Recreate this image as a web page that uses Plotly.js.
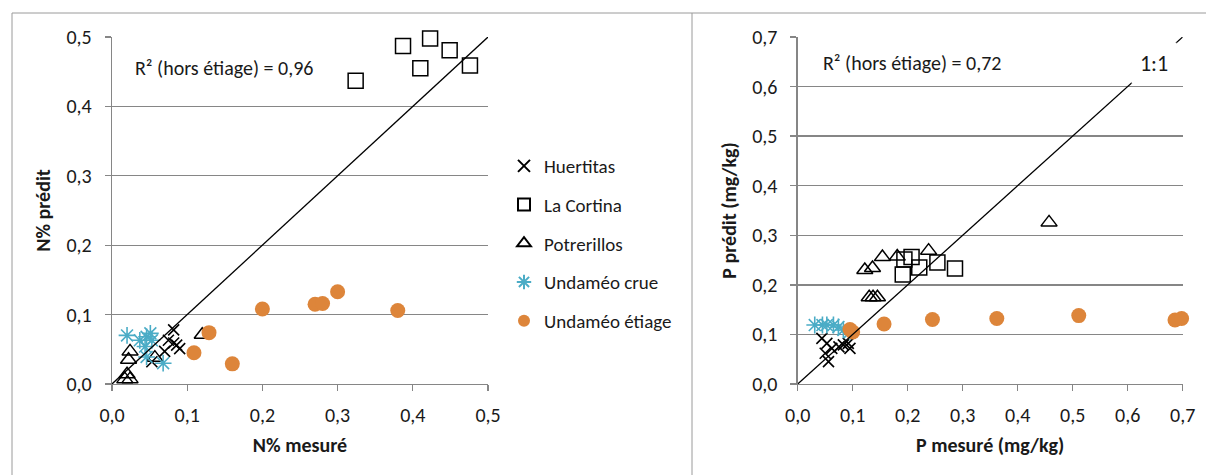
<!DOCTYPE html>
<html>
<head>
<meta charset="utf-8">
<script src="https://cdn.plot.ly/plotly-3.0.1.min.js"></script>
<style>html,body{margin:0;padding:0;background:#fff;}#chart{width:1206px;height:475px;}</style>
</head>
<body>
<div id="chart"></div>
<script>
// ---- Series names ----
const seriesNames = ["Huertitas", "La Cortina", "Potrerillos", "Undaméo crue", "Undaméo étiage"];

// ---- Left chart: N% (measured x, predicted y) ----
const hueNx = [0.053, 0.070, 0.075, 0.082, 0.082, 0.086, 0.090];
const hueNy = [0.032, 0.047, 0.063, 0.078, 0.059, 0.056, 0.051];
const corNx = [0.324, 0.387, 0.423, 0.449, 0.410, 0.476];
const corNy = [0.437, 0.487, 0.498, 0.481, 0.455, 0.459];
const potNx = [0.024, 0.022, 0.020, 0.017, 0.024, 0.057, 0.120];
const potNy = [0.047, 0.035, 0.014, 0.007, 0.007, 0.038, 0.071];
const crueNx = [0.020, 0.037, 0.046, 0.051, 0.053, 0.044, 0.046, 0.068];
const crueNy = [0.070, 0.063, 0.068, 0.073, 0.063, 0.054, 0.039, 0.030];
const etiNx = [0.109, 0.129, 0.160, 0.200, 0.270, 0.280, 0.300, 0.380];
const etiNy = [0.045, 0.074, 0.029, 0.108, 0.115, 0.116, 0.133, 0.106];
const lineN = [0, 0.5];

// ---- Right chart: P (mg/kg) ----
const huePx = [0.044, 0.053, 0.062, 0.050, 0.056, 0.075, 0.083, 0.092, 0.095];
const huePy = [0.092, 0.082, 0.072, 0.062, 0.045, 0.075, 0.079, 0.082, 0.072];
const corPx = [0.194, 0.207, 0.191, 0.221, 0.254, 0.286];
const corPy = [0.251, 0.256, 0.221, 0.235, 0.245, 0.233];
const potPx = [0.122, 0.136, 0.154, 0.181, 0.238, 0.130, 0.137, 0.145, 0.457];
const potPy = [0.230, 0.234, 0.256, 0.257, 0.269, 0.175, 0.175, 0.175, 0.326];
const cruePx = [0.031, 0.045, 0.053, 0.065, 0.074, 0.083, 0.095];
const cruePy = [0.119, 0.119, 0.119, 0.119, 0.115, 0.109, 0.105];
const etiPx = [0.095, 0.100, 0.157, 0.245, 0.362, 0.511, 0.686, 0.698];
const etiPy = [0.110, 0.105, 0.121, 0.130, 0.132, 0.138, 0.129, 0.132];
const lineP = [0, 0.7];

// ---- Text ----
const r2Left = "R² (hors étiage) = 0,96";
const r2Right = "R² (hors étiage) = 0,72";
const lineLabel = "1:1";

const FONT = "Carlito, Lato, 'Liberation Sans', sans-serif";
const TEAL = "#4BACC6";
const ORANGE = "#DD853A";
const GRID = "#868686";
const TXT = "#1a1a1a";

const styles = [
  {symbol: "x-thin-open", size: 11, color: "#000", line: {color: "#000", width: 1.6}},
  {symbol: "square-open", size: 15, color: "#000", line: {color: "#000", width: 1.5}},
  {symbol: "triangle-up-open", size: 14, color: "#000", line: {color: "#000", width: 1.5}},
  {symbol: "asterisk-open", size: 14, color: TEAL, line: {color: TEAL, width: 1.6}},
  {symbol: "circle", size: 15, color: ORANGE, line: {color: ORANGE, width: 0}}
];

const leftSets = [[hueNx, hueNy], [corNx, corNy], [potNx, potNy], [crueNx, crueNy], [etiNx, etiNy]];
const rightSets = [[huePx, huePy], [corPx, corPy], [potPx, potPy], [cruePx, cruePy], [etiPx, etiPy]];

const traces = [];
leftSets.forEach((s, i) => {
  traces.push({type: "scatter", mode: "markers", x: s[0], y: s[1], name: seriesNames[i],
    legendgroup: "g" + i, showlegend: true, cliponaxis: false,
    xaxis: "x", yaxis: "y", marker: styles[i]});
});
traces.push({type: "scatter", mode: "lines", x: lineN, y: lineN, showlegend: false,
  xaxis: "x", yaxis: "y", line: {color: "#000", width: 1.3}, hoverinfo: "skip"});
rightSets.forEach((s, i) => {
  traces.push({type: "scatter", mode: "markers", x: s[0], y: s[1], name: seriesNames[i],
    legendgroup: "g" + i, showlegend: false, cliponaxis: false,
    xaxis: "x2", yaxis: "y2", marker: styles[i]});
});
traces.push({type: "scatter", mode: "lines", x: lineP, y: lineP, showlegend: false,
  xaxis: "x2", yaxis: "y2", line: {color: "#000", width: 1.3}, hoverinfo: "skip"});

function axis(range, domain, title, anchor, isY) {
  return {
    range: range, domain: domain, anchor: anchor, dtick: 0.1, tick0: 0,
    tickformat: ".1f", showgrid: isY, gridcolor: GRID, gridwidth: 1.3,
    zeroline: false, showline: true, linecolor: GRID, linewidth: 1.3,
    ticks: "outside", ticklen: 6, tickcolor: GRID, tickwidth: 1.3,
    ticklabelstandoff: isY ? 9 : 7,
    tickfont: {family: FONT, size: 20, color: TXT},
    title: {text: title, font: {family: FONT, size: 20, color: TXT, weight: "bold"}, standoff: isY ? 10 : 11},
    automargin: false, fixedrange: true
  };
}

const yDom = [(475 - 384) / 475, (475 - 37) / 475];
const layout = {
  width: 1206, height: 475,
  margin: {l: 0, r: 0, t: 0, b: 0},
  paper_bgcolor: "#fff", plot_bgcolor: "#fff",
  separators: ", ",
  font: {family: FONT, size: 19, color: TXT},
  xaxis: axis([0, 0.5], [112 / 1206, 488 / 1206], "N% mesuré", "y", false),
  yaxis: axis([0, 0.5], yDom, "N% prédit", "x", true),
  xaxis2: axis([0, 0.7], [797.7 / 1206, 1182.7 / 1206], "P mesuré (mg/kg)", "y2", false),
  yaxis2: axis([0, 0.7], yDom, "P prédit (mg/kg)", "x2", true),
  showlegend: true,
  legend: {x: 504 / 1206, xanchor: "left", y: (475 - 147) / 475, yanchor: "top",
    font: {family: FONT, size: 19, color: TXT}, tracegroupgap: 11, itemsizing: "constant",
    bgcolor: "rgba(0,0,0,0)", borderwidth: 0, itemwidth: 30},
  annotations: [
    {xref: "paper", yref: "paper", x: 133 / 1206, y: (475 - 68) / 475, xanchor: "left", yanchor: "middle",
     text: r2Left, showarrow: false, font: {family: FONT, size: 20, color: TXT}},
    {xref: "paper", yref: "paper", x: 821 / 1206, y: (475 - 63) / 475, xanchor: "left", yanchor: "middle",
     text: r2Right, showarrow: false, font: {family: FONT, size: 20, color: TXT}},
    {xref: "paper", yref: "paper", x: 1154 / 1206, y: (475 - 63) / 475, xanchor: "center", yanchor: "middle",
     text: lineLabel, showarrow: false, bgcolor: "#fff", width: 44, height: 40, borderpad: 0,
     font: {family: FONT, size: 22, color: TXT}}
  ],
  shapes: [
    {type: "line", xref: "paper", yref: "paper", x0: 12 / 1206, x1: 1, y0: (475 - 13) / 475, y1: (475 - 13) / 475, line: {color: "#9a9a9a", width: 1}},
    {type: "line", xref: "paper", yref: "paper", x0: 12 / 1206, x1: 12 / 1206, y0: 0, y1: (475 - 13) / 475, line: {color: "#9a9a9a", width: 1}},
    {type: "line", xref: "paper", yref: "paper", x0: 692 / 1206, x1: 692 / 1206, y0: 0, y1: (475 - 13) / 475, line: {color: "#9a9a9a", width: 1}}
  ]
};

Plotly.newPlot("chart", traces, layout, {staticPlot: true, displayModeBar: false});
</script>
</body>
</html>
